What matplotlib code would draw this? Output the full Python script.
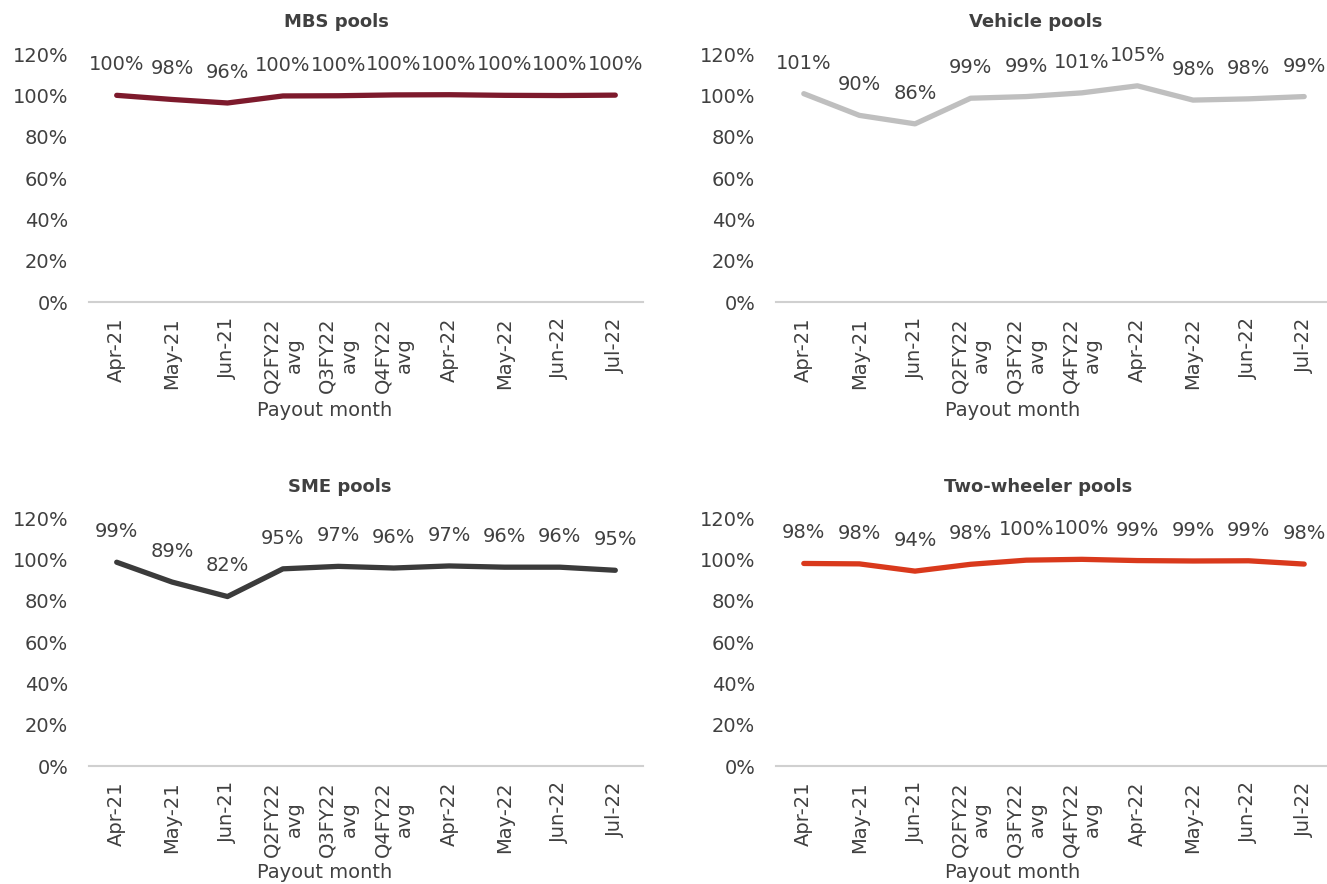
import matplotlib
matplotlib.use("Agg")
from matplotlib import pyplot as plt
from matplotlib.ticker import PercentFormatter

categories = ["Apr-21", "May-21", "Jun-21", "Q2FY22\navg", "Q3FY22\navg",
              "Q4FY22\navg", "Apr-22", "May-22", "Jun-22", "Jul-22"]

mbs = [1.000, 0.980, 0.963, 0.997, 0.998, 1.002, 1.003, 1.000, 0.999, 1.001]
vehicle = [1.008, 0.903, 0.862, 0.986, 0.994, 1.012, 1.046, 0.977, 0.983, 0.994]
sme = [0.986, 0.890, 0.820, 0.954, 0.966, 0.958, 0.968, 0.962, 0.962, 0.947]
two_wheeler = [0.980, 0.978, 0.943, 0.976, 0.996, 1.000, 0.994, 0.992, 0.993, 0.977]

panels = [
    ("MBS pools", mbs, "#7D1A2C"),
    ("Vehicle pools", vehicle, "#BFBFBF"),
    ("SME pools", sme, "#3B3B3B"),
    ("Two-wheeler pools", two_wheeler, "#D9391C"),
]

TEXT = "#404040"
W, H = 1327, 884

plt.rcParams["font.family"] = ["DejaVu Sans"]

fig = plt.figure(figsize=(W / 100, H / 100), dpi=100)

# pixel boxes: left, right, y of 120%, y of 0%
boxes = [(89, 643, 54, 302), (776, 1332, 54, 302),
         (89, 643, 518, 766), (776, 1332, 518, 766)]
title_pos = [(336, 22), (1036, 22), (340, 487), (1038, 487)]
xlabel_pos = [(325, 410), (1013, 410), (325, 873), (1013, 873)]

for (title, values, color), (l, r, t, b), (tx, ty), (lx, ly) in zip(panels, boxes, title_pos, xlabel_pos):
    ax = fig.add_axes([l / W, 1 - b / H, (r - l) / W, (b - t) / H])
    x = range(len(categories))
    ax.plot(x, values, color=color, lw=3.8, solid_capstyle="round", solid_joinstyle="round")

    for xi, v in zip(x, values):
        ax.annotate(f"{v:.0%}", (xi, v), xytext=(0, 22), textcoords="offset points",
                    ha="center", va="center", fontsize=14, color=TEXT, clip_on=False)

    ax.set_xlim(-0.5, len(categories) - 0.5)
    ax.set_ylim(0, 1.2)
    ax.set_yticks([0, 0.2, 0.4, 0.6, 0.8, 1.0, 1.2])
    ax.yaxis.set_major_formatter(PercentFormatter(1.0, decimals=0))
    ax.set_xticks(list(x))
    ax.set_xticklabels(categories, rotation=90, ha="center", va="top", multialignment="center")

    ax.tick_params(axis="y", length=0, pad=15, labelsize=14, labelcolor=TEXT)
    ax.tick_params(axis="x", length=0, pad=11, labelsize=14, labelcolor=TEXT)

    for side in ("top", "right", "left"):
        ax.spines[side].set_visible(False)
    ax.spines["bottom"].set_color("#D0D0D0")
    ax.spines["bottom"].set_linewidth(1.5)

    fig.text(tx / W, 1 - ty / H, title, ha="center", va="center",
             fontsize=13, fontweight="bold", color=TEXT)
    fig.text(lx / W, 1 - ly / H, "Payout month", ha="center", va="center",
             fontsize=14, color=TEXT)

fig.savefig("out.png", dpi=100, facecolor="white")
